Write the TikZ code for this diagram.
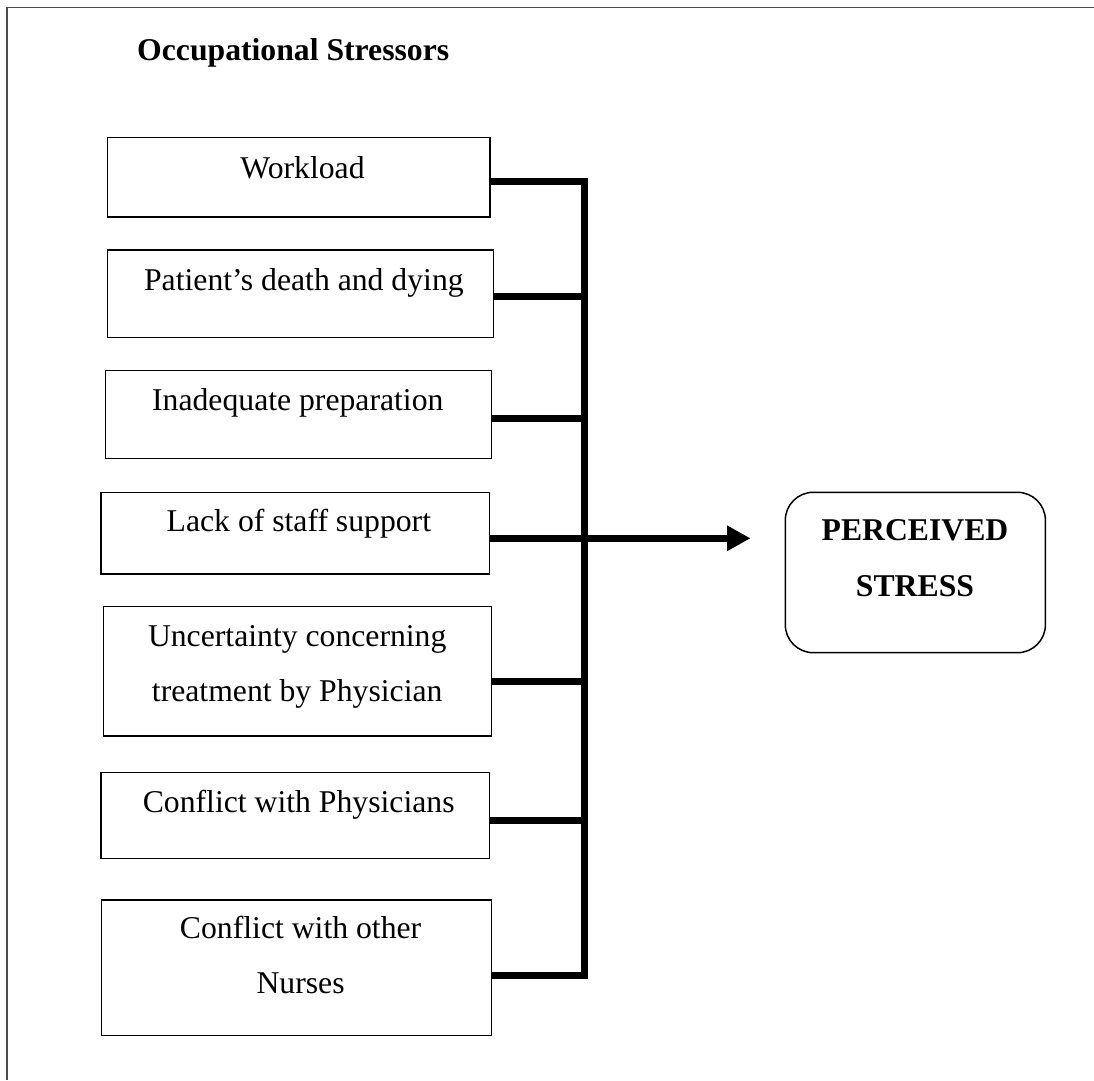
\documentclass[tikz,border=0pt]{standalone}
\usepackage{fontspec}
\setmainfont{Liberation Serif}
\usetikzlibrary{arrows.meta,fit}
\begin{document}
\begin{tikzpicture}[x=1pt,y=-1pt,
  box/.style={draw=black,line width=1.5pt,inner sep=0pt,rectangle},
  pbox/.style={draw=black,line width=1.5pt,inner sep=0pt,rectangle,rounded corners=28pt},
  txt/.style={anchor=base,inner sep=0pt,font=\fontsize{31.7}{38}\selectfont},
  btxt/.style={anchor=base,inner sep=0pt,font=\fontsize{31.7}{38}\selectfont\bfseries},
  conn/.style={line width=7pt,line join=miter,line cap=butt},
  tip/.style={-{Triangle[length=23.5pt,width=24pt]}}]
\useasboundingbox (0,0) rectangle (1094,1080);
\fill[white] (0,0) rectangle (1094,1080);
% frame
\draw[gray!60!black,line width=1.6pt] (6.8,1080) -- (6.8,7.5) -- (1094,7.5);
% title
\node[btxt,anchor=base west] (title) at (137,60) {Occupational Stressors};
% boxes
\node[box,fit={(107.5,137.7) (490,217)}] (b1) {};
\node[box,fit={(107.5,250) (493.7,337.7)}] (b2) {};
\node[box,fit={(105.3,370.7) (491.7,458.3)}] (b3) {};
\node[box,fit={(101,492.7) (489.3,574)}] (b4) {};
\node[box,fit={(103.3,606.7) (491.3,736)}] (b5) {};
\node[box,fit={(101,772.7) (489.3,858.3)}] (b6) {};
\node[box,fit={(101.7,900) (491.6,1035.3)}] (b7) {};
\node[pbox,fit={(785.3,492.3) (1045.4,652.7)}] (ps) {};
% texts
\node[txt] (t1) at (302.5,178) {Workload};
\node[txt] (t2) at (303.9,290) {Patient’s death and dying};
\node[txt] (t3) at (297.8,410) {Inadequate preparation};
\node[txt] (t4) at (298.9,531.7) {Lack of staff support};
\node[txt] (t5a) at (297.2,646.7) {Uncertainty concerning};
\node[txt] (t5b) at (297.2,701.7) {treatment by Physician};
\node[txt] (t6) at (298.7,812.7) {Conflict with Physicians};
\node[txt] (t7a) at (300.6,938) {Conflict with other};
\node[txt] (t7b) at (300.6,993) {Nurses};
\node[btxt] (p1) at (915,540.7) {PERCEIVED};
\node[btxt] (p2) at (915,596.7) {STRESS};
% connector levels
\coordinate (bus) at (584.5,0);
\coordinate (y1) at (0,181.7);
\coordinate (y2) at (0,296.7);
\coordinate (y3) at (0,418.7);
\coordinate (y4) at (0,538.3);
\coordinate (y5) at (0,681);
\coordinate (y6) at (0,820);
\coordinate (y7) at (0,975);
% connectors
\draw[conn] (b1.east |- y1) -- (bus |- y1) -- (bus |- y7) -- (b7.east |- y7);
\draw[conn] (b2.east |- y2) -- (bus |- y2);
\draw[conn] (b3.east |- y3) -- (bus |- y3);
\draw[conn] (b5.east |- y5) -- (bus |- y5);
\draw[conn] (b6.east |- y6) -- (bus |- y6);
\draw[conn,tip,shorten >=34pt] (b4.east |- y4) -- (ps.west |- y4);
\end{tikzpicture}
\end{document}
